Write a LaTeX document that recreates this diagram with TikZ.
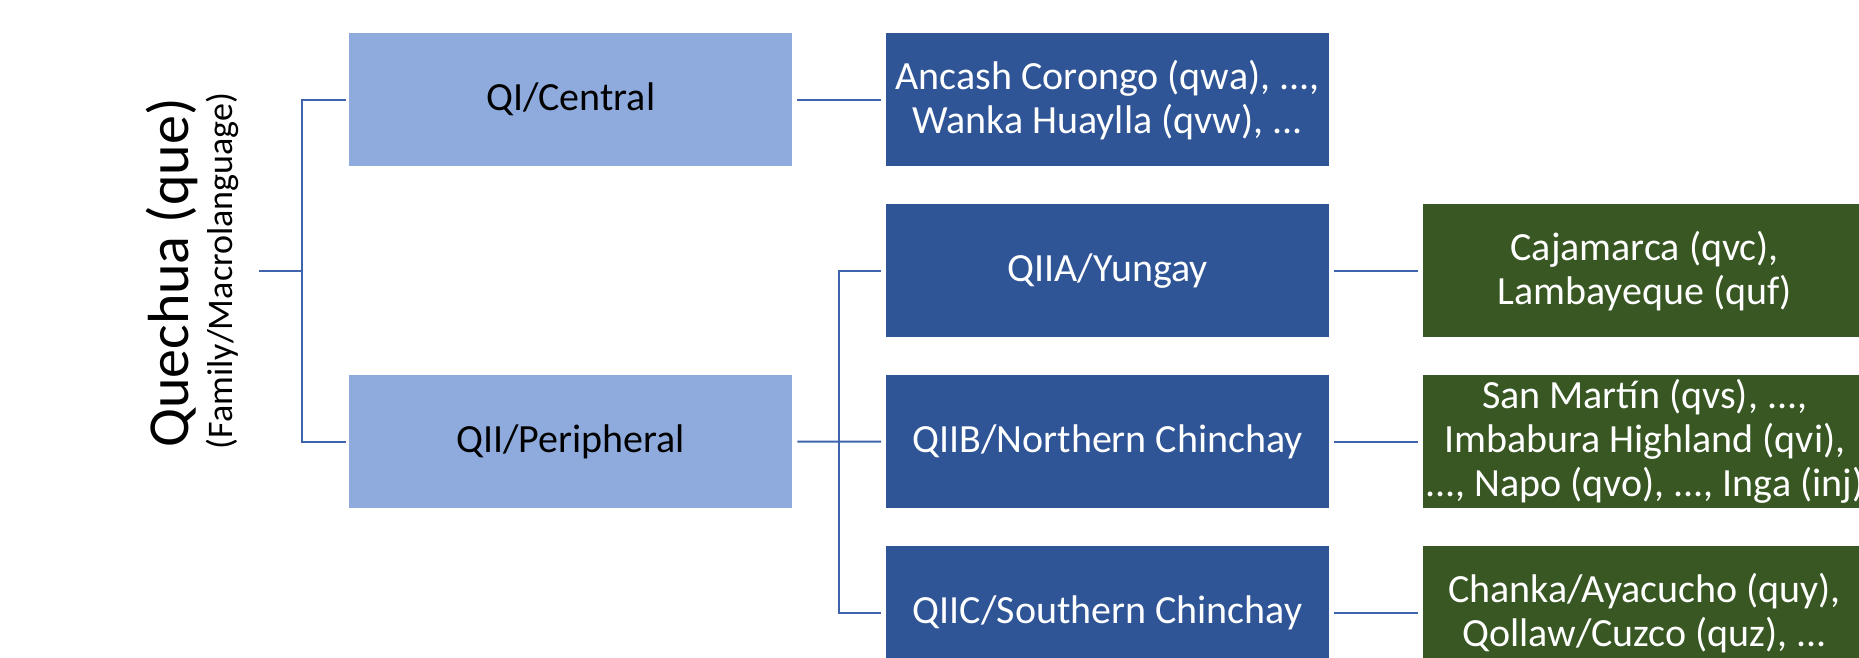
\documentclass[tikz,border=0pt]{standalone}
\usepackage{fontspec}
\setmainfont{Carlito}
\definecolor{lightb}{HTML}{8FAADC}
\definecolor{darkb}{HTML}{2F5597}
\definecolor{darkg}{HTML}{385723}
\definecolor{conn}{HTML}{3D64AD}
\begin{document}
\begin{tikzpicture}[x=1pt,y=-1pt,
  box/.style={rectangle, anchor=north west, minimum width=443pt, minimum height=133pt,
    inner sep=0pt, align=center, font=\fontsize{40}{44}\selectfont},
  lvl1/.style={box, fill=lightb, text=black},
  lvl2/.style={box, fill=darkb, text=white},
  lvl3/.style={box, fill=darkg, text=white},
  link/.style={draw=conn, line width=2pt},
]
\useasboundingbox (0,0) rectangle (1859,657);
% root labels
\node[rotate=90, inner sep=0pt, font=\fontsize{58}{60}\selectfont] (title) at (172,273) {Quechua (que)};
\node[rotate=90, inner sep=0pt, font=\fontsize{36}{40}\selectfont] (sub) at (222,271) {(Family/Macrolanguage)};
% boxes
\node[lvl1] (qi) at (349,33) {QI/Central};
\node[lvl1] (qii) at (349,375) {QII/Peripheral};
\node[lvl2] (anc) at (886,33) {Ancash Corongo (qwa), ...,\\Wanka Huaylla (qvw), ...};
\node[lvl2] (qiia) at (886,204) {QIIA/Yungay};
\node[lvl2] (qiib) at (886,375) {QIIB/Northern Chinchay};
\node[lvl2] (qiic) at (886,546) {QIIC/Southern Chinchay};
\node[lvl3] (gA) at (1423,204) {Cajamarca (qvc),\\Lambayeque (quf)};
\node[lvl3] (gB) at (1423,375) {San Martín (qvs), ...,\\Imbabura Highland (qvi),\\..., Napo (qvo), ..., Inga (inj)};
\node[lvl3] (gC) at (1423,546) {Chanka/Ayacucho (quy),\\Qollaw/Cuzco (quz), ...};
% connectors
\coordinate (root) at (259,270.5);
\coordinate (rj) at (302,270.5);
\coordinate (pj) at (839,441.5);
\draw[link] (root) -- (rj);
\draw[link, shorten >=3pt] (rj) |- (qi.west);
\draw[link, shorten >=3pt] (rj) |- (qii.west);
\draw[link, shorten <=5pt, shorten >=5pt] (qi.east) -- (anc.west);
\draw[link, shorten <=5pt] (qii.east) -- (pj);
\draw[link, shorten >=5pt] (pj) |- (qiia.west);
\draw[link, shorten >=5pt] (pj) -- (qiib.west);
\draw[link, shorten >=5pt] (pj) |- (qiic.west);
\draw[link, shorten <=5pt, shorten >=5pt] (qiia.east) -- (gA.west);
\draw[link, shorten <=5pt, shorten >=5pt] (qiib.east) -- (gB.west);
\draw[link, shorten <=5pt, shorten >=5pt] (qiic.east) -- (gC.west);
\end{tikzpicture}
\end{document}
